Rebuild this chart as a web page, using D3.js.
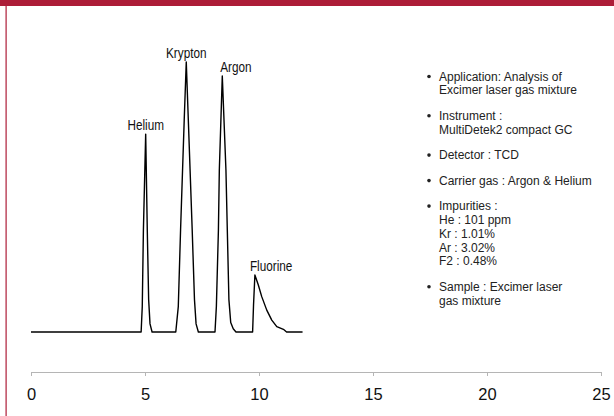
<!DOCTYPE html>
<html>
<head>
<meta charset="utf-8">
<script src="https://cdn.jsdelivr.net/npm/d3@7"></script>
<style>
  html, body { margin: 0; padding: 0; background: #fff; }
  svg { display: block; }
</style>
</head>
<body>
<div id="chart"></div>
<script>
// retention time (min) and detector signal (relative, Krypton peak = 100)
const timeMin = [0, 4.83, 4.88, 4.93, 5.03, 5.10, 5.16, 5.22, 5.31,
  6.35, 6.46, 6.56, 6.72, 6.81, 6.90, 7.07, 7.17, 7.24, 7.34,
  8.07, 8.13, 8.22, 8.26, 8.39, 8.55, 8.61, 8.68, 8.76, 8.87, 8.99,
  9.72, 9.76, 9.82, 9.97, 10.12, 10.34, 10.56, 10.78, 11.07, 11.21, 11.91];
const signal = [0, 0, 9.4, 37.8, 73.3, 37.8, 12, 3, 0,
  0, 9.4, 37.8, 78.5, 100, 78.5, 37.8, 12, 3, 0,
  0, 9.4, 37.8, 60, 94.8, 60, 37.8, 12, 3.5, 1.2, 0,
  0, 10, 21.1, 17.4, 13.1, 8.1, 4.4, 2.0, 1.0, 0, 0];

const peakNames = ["Helium", "Krypton", "Argon", "Fluorine"];
const peakTimes = [5.03, 6.81, 8.39, 9.82];
const peakHeights = [73.3, 100, 94.8, 21.1];

const xTicks = [0, 5, 10, 15, 20, 25];

const notes = [
  ["Application: Analysis of", "Excimer laser gas mixture"],
  ["Instrument :", "MultiDetek2 compact GC"],
  ["Detector : TCD"],
  ["Carrier gas : Argon & Helium"],
  ["Impurities :", "He : 101 ppm", "Kr : 1.01%", "Ar : 3.02%", "F2 : 0.48%"],
  ["Sample : Excimer laser", "gas mixture"]
];

const width = 614, height = 416;
const red = "#ad1d38";

const svg = d3.select("#chart").append("svg")
  .attr("width", width)
  .attr("height", height);

// frame: top band and left rule
svg.append("rect").attr("x", 0).attr("y", 0).attr("width", width).attr("height", 6).attr("fill", red);
svg.append("rect").attr("x", 5.5).attr("y", 6).attr("width", 1.2).attr("height", height - 6).attr("fill", red);

const x = d3.scaleLinear().domain([0, 25]).range([31, 601]);
const y = d3.scaleLinear().domain([0, 100]).range([332, 62]);

// x axis
const axis = svg.append("g")
  .attr("transform", "translate(0,372)")
  .call(d3.axisBottom(x).tickValues(xTicks).tickSize(4).tickPadding(12).tickFormat(d3.format("d")));
axis.select(".domain").attr("stroke", "#b5b5b5");
axis.selectAll(".tick line").attr("stroke", "#b5b5b5");
axis.selectAll(".tick text")
  .attr("fill", "#111")
  .style("font-family", "'Liberation Sans', Arial, sans-serif")
  .style("font-size", "16.5px");

// chromatogram
const pts = timeMin.map((t, i) => [t, signal[i]]);
const line = d3.line().x(d => x(d[0])).y(d => y(d[1]));
svg.append("path")
  .datum(pts)
  .attr("d", line)
  .attr("fill", "none")
  .attr("stroke", "#000")
  .attr("stroke-width", 1.4)
  .attr("stroke-linejoin", "round");

// peak labels (narrow face imitated by horizontal squeeze)
const labelAnchor = ["middle", "middle", "start", "start"];
const labelDx = [0, 0, -2, -5];
svg.append("g").selectAll("text")
  .data(peakNames)
  .join("text")
  .attr("transform", (d, i) => `translate(${x(peakTimes[i]) + labelDx[i]},${y(peakHeights[i]) - 4}) scale(0.84,1)`)
  .attr("text-anchor", (d, i) => labelAnchor[i])
  .style("font-family", "'Liberation Sans', Arial, sans-serif")
  .style("font-size", "14px")
  .attr("fill", "#111")
  .text(d => d);

// notes list
const noteGroup = svg.append("g");
let baseY = 80.5;
notes.forEach(item => {
  noteGroup.append("circle")
    .attr("cx", 429).attr("cy", baseY - 4).attr("r", 1.8).attr("fill", "#222");
  item.forEach((txt, j) => {
    noteGroup.append("text")
      .attr("x", 439)
      .attr("y", baseY + j * 13.8)
      .style("font-family", "'Liberation Sans', Arial, sans-serif")
      .style("font-size", "12px")
      .attr("fill", "#222")
      .text(txt);
  });
  baseY += (item.length - 1) * 13.8 + 25.5;
});
</script>
</body>
</html>
